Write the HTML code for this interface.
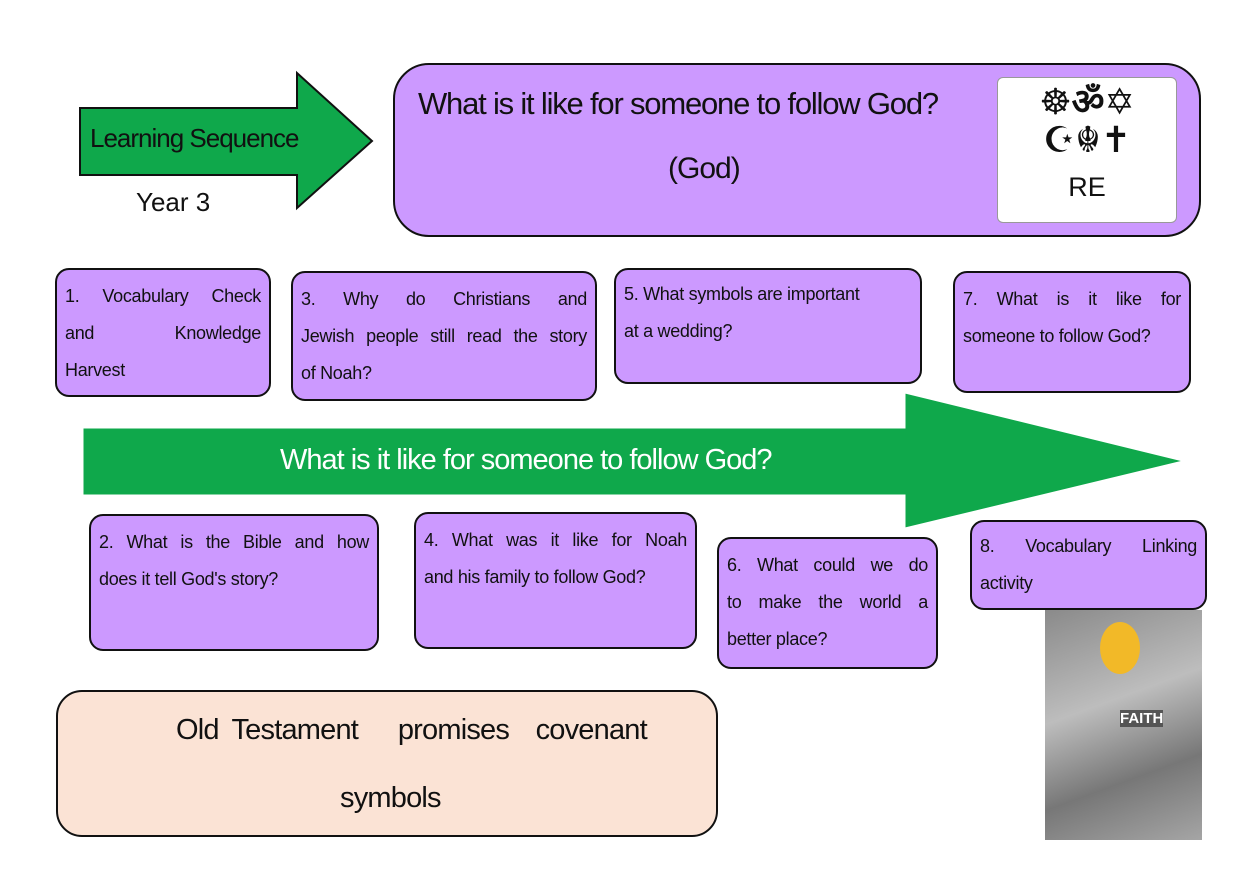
<!DOCTYPE html>
<html><head><meta charset="utf-8"><style>
body{margin:0;width:1260px;height:891px;background:#fff;position:relative;overflow:hidden;font-family:"Liberation Sans",sans-serif;color:#111}
.b{position:absolute;background:#cc99ff;border:2.5px solid #111;border-radius:14px;box-sizing:border-box;padding:8px 8px 6px 8px;font-size:18px;line-height:37px;letter-spacing:-0.3px}
.b .j{text-align:justify;text-align-last:justify;white-space:nowrap}
.abs{position:absolute;white-space:nowrap}
</style></head><body>
<svg width="1260" height="891" style="position:absolute;left:0;top:0">
<polygon points="80,108 297,108 297,73 372,141 297,208 297,175 80,175" fill="#0fa84b" stroke="#111" stroke-width="2"/>
<polygon points="83,428 905,428 905,393 1183,461 905,528 905,495 83,495" fill="#0fa84b" stroke="#fff" stroke-width="1"/>
</svg>
<div class="abs" style="left:90px;top:123px;font-size:26px;letter-spacing:-1px">Learning Sequence</div>
<div class="abs" style="left:136px;top:187px;font-size:26px">Year 3</div>
<div style="position:absolute;left:393px;top:63px;width:808px;height:174px;background:#cc99ff;border:2.5px solid #111;border-radius:36px;box-sizing:border-box"></div>
<div class="abs" style="left:418px;top:86px;font-size:31px;letter-spacing:-1.2px">What is it like for someone to follow God?</div>
<div class="abs" style="left:668px;top:152px;font-size:30px;letter-spacing:-1px">(God)</div>
<div style="position:absolute;left:997px;top:77px;width:180px;height:146px;background:#fff;border:1.5px solid #999;border-radius:6px;box-sizing:border-box;text-align:center">
<div style="font-size:36px;line-height:38px;margin-top:6px;font-family:'DejaVu Sans',sans-serif;font-weight:bold">☸ॐ✡<br>☪☬✝</div>
<div style="font-size:27px;margin-top:12px">RE</div></div>
<div class="b" style="left:55px;top:268px;width:216px;height:129px"><div class="j">1. Vocabulary Check</div><div class="j">and Knowledge</div><div>Harvest</div></div>
<div class="b" style="left:291px;top:271px;width:306px;height:130px"><div class="j">3. Why do Christians and</div><div class="j">Jewish people still read the story</div><div>of Noah?</div></div>
<div class="b" style="left:614px;top:268px;width:308px;height:116px;padding-top:6px"><div>5. What symbols are important</div><div>at a wedding?</div></div>
<div class="b" style="left:953px;top:271px;width:238px;height:122px"><div class="j">7. What is it like for</div><div>someone to follow God?</div></div>
<div class="abs" style="left:280px;top:444px;font-size:29px;color:#fff;letter-spacing:-1px">What is it like for someone to follow God?</div>
<div class="b" style="left:89px;top:514px;width:290px;height:137px"><div class="j">2. What is the Bible and how</div><div>does it tell God's story?</div></div>
<div class="b" style="left:414px;top:512px;width:283px;height:137px"><div class="j">4. What was it like for Noah</div><div>and his family to follow God?</div></div>
<div class="b" style="left:717px;top:537px;width:221px;height:132px"><div class="j">6. What could we do</div><div class="j">to make the world a</div><div>better place?</div></div>
<div class="b" style="left:970px;top:520px;width:237px;height:90px;padding-top:6px"><div class="j">8. Vocabulary Linking</div><div>activity</div></div>
<div style="position:absolute;left:1045px;top:610px;width:157px;height:230px;background:linear-gradient(160deg,#8a8a8a,#bdbdbd 40%,#777 70%,#a5a5a5)"></div>
<div style="position:absolute;left:1100px;top:622px;width:40px;height:52px;border-radius:50%;background:#f2b928"></div>
<div class="abs" style="left:1120px;top:710px;font-size:15px;color:#fff;background:#555;font-weight:bold">FAITH</div>
<div style="position:absolute;left:56px;top:690px;width:662px;height:147px;background:#fbe3d5;border:2.5px solid #111;border-radius:26px;box-sizing:border-box"></div>
<div class="abs" style="left:176px;top:714px;font-size:29px;letter-spacing:-0.8px;word-spacing:6px">Old Testament &nbsp;&nbsp;promises &nbsp;covenant</div>
<div class="abs" style="left:340px;top:782px;font-size:29px;letter-spacing:-0.8px">symbols</div>
</body></html>
